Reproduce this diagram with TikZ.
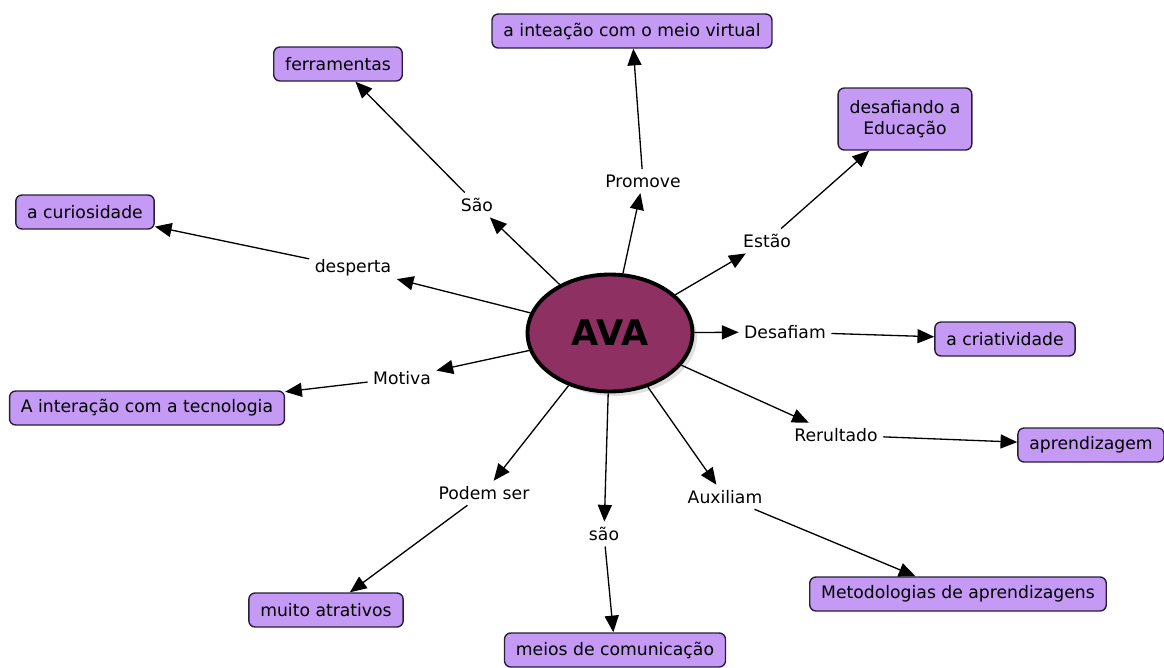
\documentclass[tikz,border=0pt]{standalone}
\usepackage{fontspec}
\setmainfont{DejaVu Sans}
\usepackage{tikz}
\usetikzlibrary{shapes,arrows.meta,positioning,shadows}

\definecolor{boxfill}{RGB}{196,154,245}
\definecolor{boxline}{RGB}{40,30,60}
\definecolor{avafill}{RGB}{142,48,98}

\begin{document}
\begin{tikzpicture}[x=0.02cm, y=-0.02cm,
    concept/.style={rectangle, rounded corners=3.5pt, draw=boxline, line width=0.8pt, fill=boxfill, inner xsep=6.5pt, minimum height=0.68cm, align=center, font=\fontsize{9.8}{12}\selectfont},
    link/.style={inner sep=3pt, font=\fontsize{9.8}{12}\selectfont},
    ava/.style={ellipse, draw, line width=2.2pt, fill=avafill, minimum width=3.3cm, minimum height=2.34cm, font=\bfseries\fontsize{20}{22}\selectfont, drop shadow={opacity=0.25, shadow xshift=2.5pt, shadow yshift=-2.5pt}},
    arrow/.style={line width=0.75pt, -{Triangle[length=9.5pt,width=8pt]}}
]
    \useasboundingbox (0,0) rectangle (1164,667);

    \node[ava] (ava) at (610,333) {AVA};

    \node[concept] (ferr) at (338,64) {ferramentas};
    \node[concept] (virt) at (632,31) {a inteação com o meio virtual};
    \node[concept, minimum height=1.24cm] (educ) at (905,119) {desafiando a\\Educação};
    \node[concept] (curi) at (85,212) {a curiosidade};
    \node[concept] (tecn) at (147,408) {A interação com a tecnologia};
    \node[concept] (cria) at (1005,339) {a criatividade};
    \node[concept] (apre) at (1091,445) {aprendizagem};
    \node[concept] (meto) at (958,594) {Metodologias de aprendizagens};
    \node[concept] (atra) at (326,610) {muito atrativos};
    \node[concept] (meio) at (615,650) {meios de comunicação};

    \node[link] (sao) at (477,205) {São};
    \node[link] (prom) at (643,181) {Promove};
    \node[link] (esta) at (767,241) {Estão};
    \node[link] (desp) at (353,268) {desperta};
    \node[link] (desa) at (785,332) {Desafiam};
    \node[link] (moti) at (402,378) {Motiva};
    \node[link] (reru) at (836,435) {Rerultado};
    \node[link] (pode) at (484,493) {Podem ser};
    \node[link] (saom) at (604,534) {são};
    \node[link] (auxi) at (725,497) {Auxiliam};

    \draw[arrow] (ava) -- (sao);
    \draw[arrow] (sao) -- (ferr);
    \draw[arrow] (ava) -- (prom);
    \draw[arrow] (prom) -- (virt);
    \draw[arrow] (ava) -- (esta);
    \draw[arrow] (esta) -- (educ);
    \draw[arrow] (ava) -- (desp);
    \draw[arrow] (desp) -- (curi);
    \draw[arrow] (ava) -- (desa);
    \draw[arrow] (desa) -- (cria);
    \draw[arrow] (ava) -- (moti);
    \draw[arrow] (moti) -- (tecn);
    \draw[arrow] (ava) -- (reru);
    \draw[arrow] (reru) -- (apre);
    \draw[arrow] (ava) -- (pode);
    \draw[arrow] (pode) -- (atra);
    \draw[arrow] (ava) -- (saom);
    \draw[arrow] (saom) -- (meio);
    \draw[arrow] (ava) -- (auxi);
    \draw[arrow] (auxi) -- (meto);
\end{tikzpicture}
\end{document}
